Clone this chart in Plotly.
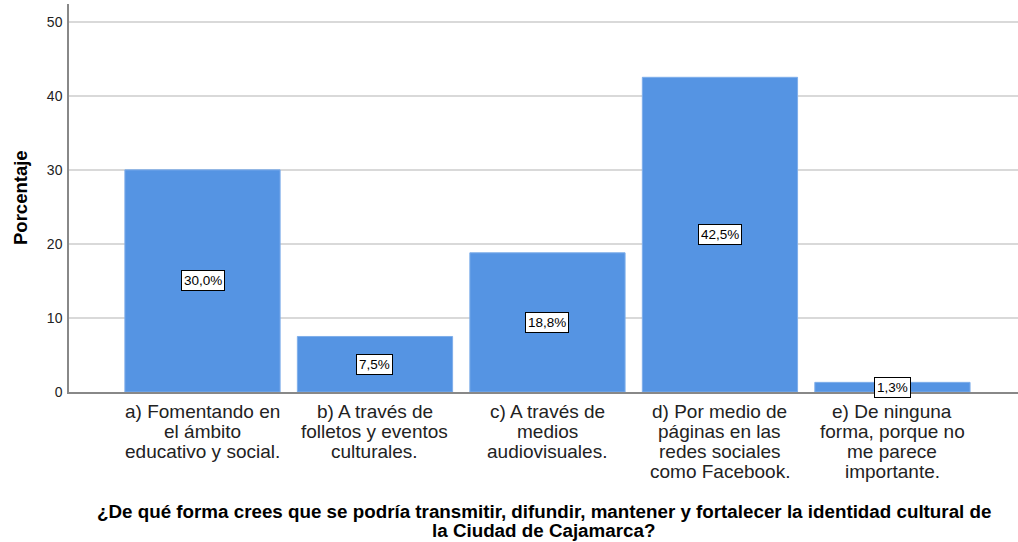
import plotly.graph_objects as go

categories = [
    ["a) Fomentando en", "el ámbito", "educativo y social."],
    ["b) A través de", "folletos y eventos", "culturales."],
    ["c) A través de", "medios", "audiovisuales."],
    ["d) Por medio de", "páginas en las", "redes sociales", "como Facebook."],
    ["e) De ninguna", "forma, porque no", "me parece", "importante."],
]
values = [30.0, 7.5, 18.8, 42.5, 1.3]
value_labels = ["30,0%", "7,5%", "18,8%", "42,5%", "1,3%"]
y_ticks = [0, 10, 20, 30, 40, 50]
x_title_lines = [
    "¿De qué forma crees que se podría transmitir, difundir, mantener y fortalecer la identidad cultural de",
    "la Ciudad de Cajamarca?",
]
y_title = "Porcentaje"

FONT = "Arial, Liberation Sans, sans-serif"
x_idx = list(range(len(categories)))

fig = go.Figure()
fig.add_trace(go.Bar(
    x=x_idx, y=values,
    marker=dict(color="#5594E3", line=dict(color="#7FAEEA", width=1)),
    width=0.9,
    hoverinfo="skip",
))

# value labels in boxes at half bar height
for i, (v, lab) in enumerate(zip(values, value_labels)):
    fig.add_annotation(
        x=i, y=v / 2, xref="x", yref="y", text=lab, showarrow=False,
        font=dict(family=FONT, size=13.5, color="black"),
        bgcolor="white", bordercolor="black", borderwidth=1, borderpad=2,
    )

# category labels (one annotation per line for tight line spacing)
for i, lines in enumerate(categories):
    for k, line in enumerate(lines):
        fig.add_annotation(
            x=i, y=0, xref="x", yref="paper", text=line, showarrow=False,
            yanchor="middle", yshift=-(19 + 20 * k),
            font=dict(family=FONT, size=19, color="#222"),
        )

# x-axis title
for k, line in enumerate(x_title_lines):
    fig.add_annotation(
        x=0.5, y=0, xref="paper", yref="paper", text="<b>" + line + "</b>",
        showarrow=False, yanchor="middle", yshift=-(119.5 + 19 * k),
        font=dict(family=FONT, size=18.8, color="black"),
    )

# y-axis title
fig.add_annotation(
    x=0, y=0.5, xref="paper", yref="paper", text="<b>" + y_title + "</b>",
    showarrow=False, textangle=-90, xanchor="center", yanchor="middle",
    xshift=-49,
    font=dict(family=FONT, size=18.5, color="black"),
)

fig.update_layout(
    width=1018, height=542,
    margin=dict(l=69, r=0, t=4, b=150),
    plot_bgcolor="white", paper_bgcolor="white",
    showlegend=False,
    font=dict(family=FONT, color="#222"),
    xaxis=dict(
        range=[-0.774, 4.728],
        tickmode="array", tickvals=x_idx, ticktext=[""] * len(x_idx),
        showline=True, linecolor="#888", linewidth=1.5,
        showgrid=False, zeroline=False, ticks="", automargin=False,
    ),
    yaxis=dict(
        range=[0, 52.4],
        tickmode="array", tickvals=y_ticks,
        tickfont=dict(family=FONT, size=14, color="#222"),
        showline=True, linecolor="#888", linewidth=1.5,
        showgrid=True, gridcolor="#D9D9D9", gridwidth=1.5,
        zeroline=False, ticks="outside", ticklen=2, tickcolor="white",
        automargin=False,
    ),
)

fig.write_html(
    "out.html",
    config={"displayModeBar": False},
    post_script="document.body.style.margin='0';",
)
